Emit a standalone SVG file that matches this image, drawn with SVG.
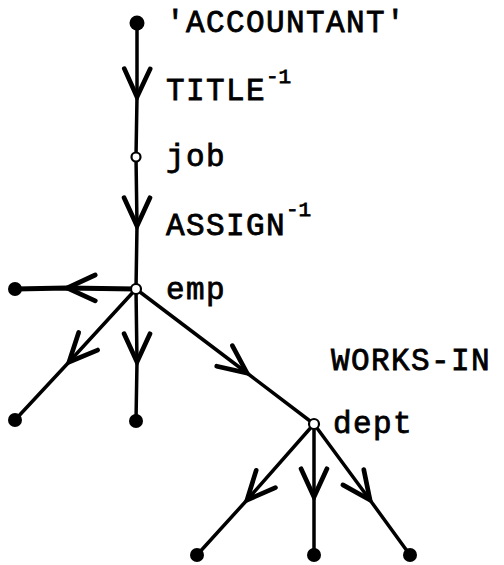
<svg xmlns="http://www.w3.org/2000/svg" width="504" height="565" viewBox="0 0 504 565">
<style>
.e{fill:none;stroke:#000;stroke-width:3.5;stroke-linecap:round;marker-mid:url(#arr)}
.f{fill:#000}
.o{fill:#fff;stroke:#000;stroke-width:2.2}
text{font-family:"Liberation Mono","Courier New",monospace;font-size:31px;letter-spacing:1.4px;fill:#000;stroke:#000;stroke-width:0.8}
.sup{font-size:21px;letter-spacing:0px}
</style>
<defs>
<marker id="arr" markerUnits="userSpaceOnUse" markerWidth="40" markerHeight="40" viewBox="-30 -15 34 30" refX="0" refY="0" orient="auto">
<path d="M-24,-11 L0,0 L-24,11" fill="none" stroke="#000" stroke-width="4" stroke-linejoin="miter" stroke-linecap="round"/>
</marker>
</defs>
<rect width="504" height="565" fill="#fff"/>
<g id="connectors">
<path class="e" d="M137,23 L137,97 L136,157"/>
<path class="e" d="M136,157 L137,226 L136,289"/>
<path class="e" style="stroke-width:5" d="M136,289 L67,288 L15,289"/>
<path class="e" d="M136,289 L69,362 L15,420"/>
<path class="e" d="M136,289 L137,362 L136,421"/>
<path class="e" d="M136,289 L247,373 L314,424"/>
<path class="e" d="M314,424 L247,500 L197,555"/>
<path class="e" d="M314,424 L314,497 L314,555"/>
<path class="e" d="M314,424 L370,500 L410,555"/>
</g>
<g id="accountant"><circle class="f" cx="137" cy="23" r="7.5"/><text x="166" y="32">'ACCOUNTANT'</text></g>
<g id="title-label"><text x="166" y="100">TITLE</text><text class="sup" x="266" y="83">-1</text></g>
<g id="job"><circle class="o" cx="136" cy="157" r="4.5"/><text x="166" y="166">job</text></g>
<g id="assign-label"><text x="166" y="235">ASSIGN</text><text class="sup" x="286" y="216">-1</text></g>
<g id="emp"><circle class="o" cx="136" cy="289" r="5"/><text x="166" y="299">emp</text></g>
<g id="n-left"><circle class="f" cx="15" cy="289" r="7"/></g>
<g id="n-bl"><circle class="f" cx="15" cy="420" r="7"/></g>
<g id="n-bm"><circle class="f" cx="136" cy="421" r="7"/></g>
<g id="works-in-label"><text x="331" y="370">WORKS-IN</text></g>
<g id="dept"><circle class="o" cx="314" cy="424" r="5"/><text x="333" y="433">dept</text></g>
<g id="n-d1"><circle class="f" cx="197" cy="555" r="7"/></g>
<g id="n-d2"><circle class="f" cx="314" cy="555" r="7"/></g>
<g id="n-d3"><circle class="f" cx="410" cy="555" r="7"/></g>
</svg>
